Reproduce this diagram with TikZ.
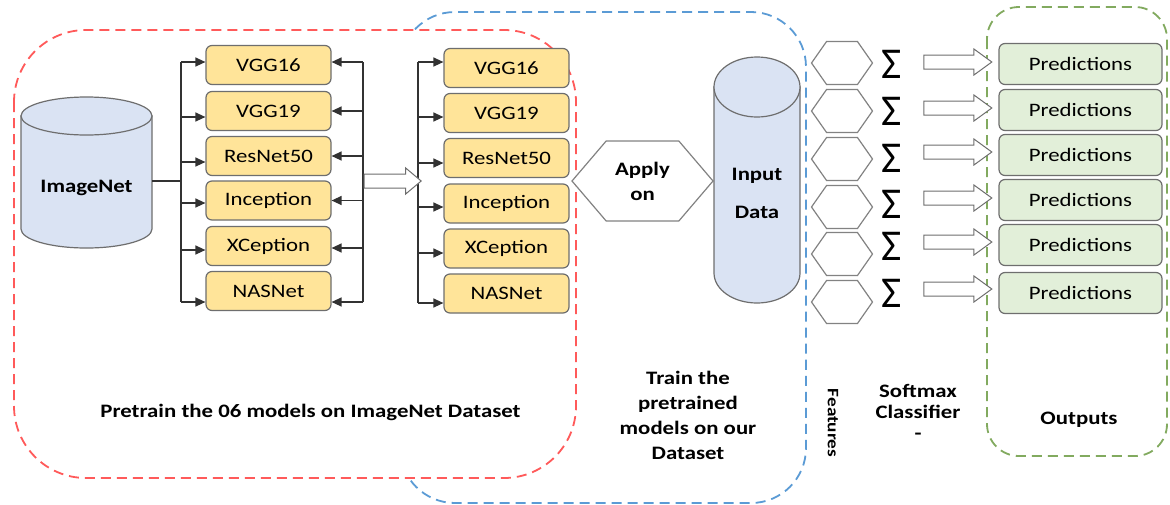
\documentclass[tikz,border=0pt]{standalone}
\usepackage{fontspec}
\setmainfont{Carlito}[FakeStretch=1.2]
\newfontfamily\sigfont{Carlito}
\usetikzlibrary{arrows.meta,shapes.symbols,shapes.arrows}
\definecolor{redD}{RGB}{255,90,90}
\definecolor{blueD}{RGB}{91,155,213}
\definecolor{greenD}{RGB}{130,170,95}
\definecolor{yfill}{RGB}{255,228,153}
\definecolor{gfill}{RGB}{226,239,217}
\definecolor{cfill}{RGB}{218,227,243}
\definecolor{bord}{RGB}{110,110,110}
\definecolor{hexb}{RGB}{130,130,130}
\definecolor{lin}{RGB}{50,50,50}
\tikzset{
  dashbox/.style={line width=1.8pt, dash pattern=on 10pt off 6pt},
  model/.style={draw=bord, line width=1.2pt, fill=yfill, rounded corners=6pt,
    minimum width=125pt, minimum height=39pt, inner sep=0pt,
    font=\fontsize{19}{21}\selectfont},
  pred/.style={draw=bord, line width=1.2pt, fill=gfill, rounded corners=6pt,
    minimum width=163pt, minimum height=41pt, inner sep=0pt,
    font=\fontsize{19}{21}\selectfont},
  conn/.style={draw=lin, line width=1.3pt},
  arr/.style={conn, -{Triangle[length=10pt,width=9pt]}},
  blockarr/.style={single arrow, draw=bord, fill=white, line width=1pt, inner sep=0pt,
    single arrow head extend=6pt},
  hexf/.style={signal, signal to=east and west, signal from=nowhere, draw=hexb,
    line width=1.2pt, fill=white, inner sep=0pt},
  cyl/.style={draw=bord, line width=1.2pt, fill=cfill},
  lbl/.style={font=\bfseries\fontsize{19}{21}\selectfont, align=center},
}
\begin{document}
\begin{tikzpicture}[x=1pt,y=-1pt]
\useasboundingbox (0,0) rectangle (1170,504);
% group frames
\draw[dashbox, blueD, rounded corners=55pt] (400,12) rectangle (806,503);
\draw[dashbox, redD, fill=white, rounded corners=72pt] (14,30) rectangle (576,478);
\draw[dashbox, greenD, rounded corners=32pt] (987,7) rectangle (1167,456);

% ImageNet cylinder
\filldraw[cyl] (21,116) -- (21,229) arc[start angle=180,end angle=360,x radius=65.5pt,y radius=19pt] -- (152,116) -- cycle;
\filldraw[cyl] (86.5,116) ellipse[x radius=65.5pt,y radius=19pt];
\node[lbl, minimum width=131pt, inner sep=0pt] (imagenet) at (86.5,188) {ImageNet};

% left models
\node[model] (a1) at (268.5,65) {VGG16};
\node[model] (a2) at (268.5,111) {VGG19};
\node[model] (a3) at (268.5,156) {ResNet50};
\node[model] (a4) at (268.5,200.5) {Inception};
\node[model] (a5) at (268.5,246) {XCeption};
\node[model] (a6) at (268.5,291) {NASNet};

% right models
\node[model] (b1) at (506.5,68) {VGG16};
\node[model] (b2) at (506.5,113) {VGG19};
\node[model] (b3) at (506.5,158) {ResNet50};
\node[model] (b4) at (506.5,203.5) {Inception};
\node[model] (b5) at (506.5,248.5) {XCeption};
\node[model] (b6) at (506.5,293.5) {NASNet};

% left bus (inputs)
\coordinate (busL) at (181,181);
\draw[conn] ([yshift=7pt]imagenet.east) -- (busL);
\draw[conn] ([yshift=3pt]a1.west -| busL) -- ([yshift=-11pt]a6.west -| busL);
\draw[arr] ([yshift=3pt]a1.west -| busL) -- ([yshift=3pt]a1.west);
\draw[arr] ([yshift=-6pt]a2.west -| busL) -- ([yshift=-6pt]a2.west);
\draw[arr] ([yshift=-6pt]a3.west -| busL) -- ([yshift=-6pt]a3.west);
\draw[arr] ([yshift=-2.5pt]a4.west -| busL) -- ([yshift=-2.5pt]a4.west);
\draw[arr] ([yshift=-4pt]a5.west -| busL) -- ([yshift=-4pt]a5.west);
\draw[arr] ([yshift=-11pt]a6.west -| busL) -- ([yshift=-11pt]a6.west);

% left group outputs bus
\coordinate (busM) at (363,181);
\draw[conn] ([yshift=3pt]a1.east -| busM) -- ([yshift=-11pt]a6.east -| busM);
\draw[arr] ([yshift=3pt]a1.east -| busM) -- ([yshift=3pt]a1.east);
\draw[arr] (a2.east -| busM) -- (a2.east);
\draw[arr] (a3.east -| busM) -- (a3.east);
\draw[arr] (a4.east -| busM) -- (a4.east);
\draw[arr] ([yshift=-2pt]a5.east -| busM) -- ([yshift=-2pt]a5.east);
\draw[arr] ([yshift=-11pt]a6.east -| busM) -- ([yshift=-11pt]a6.east);

% right group bus
\coordinate (busR) at (418,181);
\draw[conn] ([yshift=6pt]b1.west -| busR) -- ([yshift=-9.5pt]b6.west -| busR);
\draw[arr] ([yshift=6pt]b1.west -| busR) -- ([yshift=6pt]b1.west);
\draw[arr] ([yshift=-4pt]b2.west -| busR) -- ([yshift=-4pt]b2.west);
\draw[arr] ([yshift=-5pt]b3.west -| busR) -- ([yshift=-5pt]b3.west);
\draw[arr] ([yshift=-3.5pt]b4.west -| busR) -- ([yshift=-3.5pt]b4.west);
\draw[arr] ([yshift=-4.5pt]b5.west -| busR) -- ([yshift=-4.5pt]b5.west);
\draw[arr] ([yshift=-9.5pt]b6.west -| busR) -- ([yshift=-9.5pt]b6.west);

% transfer block arrow
\node[blockarr, minimum height=57pt, single arrow tip angle=80] (xfer) at (388.5,181) {\rule{0pt}{13pt}};

% apply on
\node[hexf, minimum width=141pt, minimum height=80pt, signal pointer angle=99,
      lbl, font=\bfseries\fontsize{19}{25}\selectfont] (apply) at (642.5,181) {Apply\\on};

% Input data cylinder
\filldraw[cyl] (714,87) -- (714,273) arc[start angle=180,end angle=360,x radius=43pt,y radius=30pt] -- (800,87) -- cycle;
\filldraw[cyl] (757,87) ellipse[x radius=43pt,y radius=30pt];
\node[lbl, font=\bfseries\fontsize{19}{38}\selectfont] (input) at (757,193) {Input\\Data};

% features, sigma, arrows, predictions
\foreach \i/\hy/\sy/\ay/\py in {1/63/64/62/64, 2/111/111/108/110, 3/159/158/152/155, 4/207/204/198/200, 5/254/246/242/245, 6/302/293/289/293}{
  \node[hexf, minimum width=61pt, minimum height=43pt, signal pointer angle=110] (h\i) at (842,\hy) {};
  \node[font=\sigfont\fontsize{44}{44}\selectfont, inner sep=0pt] (s\i) at (892,\sy) {Σ};
  \node[blockarr, minimum height=68pt, single arrow tip angle=72] (o\i) at (953,\ay) {\rule{0pt}{13pt}};
  \node[pred] (p\i) at (1080.5,\py) {Predictions};
}

% labels
\node[lbl] (pretrain) at (310.5,412) {Pretrain the 06 models on ImageNet Dataset};
\node[lbl, font=\bfseries\fontsize{19}{25}\selectfont] (train) at (688,415.5) {Train the\\pretrained\\models on our\\Dataset};
\node[lbl, rotate=-90, font=\bfseries\fontsize{16}{18}\selectfont] (feat) at (833,423) {Features};
\node[lbl, font=\bfseries\fontsize{19}{21}\selectfont] (soft) at (918,412) {Softmax\\Classifier\\-};
\node[lbl] (outputs) at (1079,420) {Outputs};
\end{tikzpicture}
\end{document}
